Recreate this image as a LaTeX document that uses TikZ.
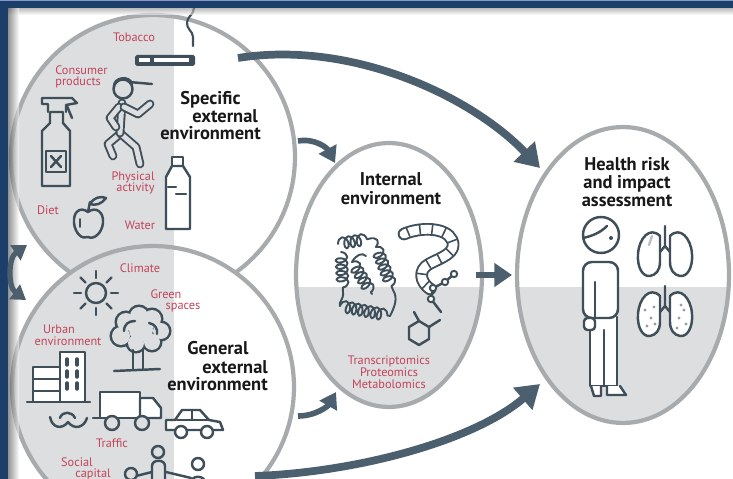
\documentclass[tikz,border=0pt]{standalone}
\usepackage{fontspec}
\setmainfont{PT Sans}
\usetikzlibrary{arrows.meta,shapes.geometric,decorations.pathmorphing,decorations.pathreplacing}

\definecolor{bandblue}{RGB}{28,63,106}
\definecolor{bandlight}{RGB}{140,150,205}
\definecolor{ringgray}{RGB}{168,171,174}
\definecolor{fillgray}{RGB}{220,222,224}
\definecolor{iconcol}{RGB}{63,79,90}
\definecolor{arrowcol}{RGB}{75,95,110}
\definecolor{labred}{RGB}{196,67,90}
\definecolor{ttlcol}{RGB}{24,24,24}

\tikzset{
  ring/.style={draw=ringgray, line width=2.4pt, fill=white, inner sep=0pt, outer sep=0pt},
  splitx/.style={path picture={\fill[fillgray]
      ([xshift=-3cm,yshift=-3cm]path picture bounding box.south west) rectangle
      ([xshift=#1,yshift=3cm]path picture bounding box.north);}},
  splity/.style={path picture={\fill[fillgray]
      ([xshift=-3cm,yshift=-3cm]path picture bounding box.south west) rectangle
      ([xshift=3cm,yshift=#1]path picture bounding box.east);}},
  flow/.style={draw=arrowcol, line width=4.4pt, -{Triangle[length=13pt,width=16pt]}},
  flowmid/.style={draw=arrowcol, line width=3.8pt, -{Triangle[length=10pt,width=13pt]}},
  flowsmall/.style={draw=arrowcol, line width=3.2pt, -{Triangle[length=9pt,width=11pt]}},
  icon/.style={draw=iconcol, line width=1.4pt, line cap=round, line join=round},
  limb/.style={draw=iconcol, line width=1.1pt, double=fillgray, double distance=2.8pt,
      line cap=round, line join=round},
  lab/.style={text=labred, font=\fontsize{7}{7}\selectfont, inner sep=0pt},
  ttl/.style={text=ttlcol, font=\bfseries\fontsize{10.5}{10}\selectfont, inner sep=0pt},
}

\begin{document}
\begin{tikzpicture}[x=0.02cm,y=-0.02cm]
\useasboundingbox (0,0) rectangle (733,479);
\clip (0,0) rectangle (733,479);
\fill[white] (0,0) rectangle (733,479);

% --- the four environments ---
\node[ring, circle, minimum size=5.68cm, splitx=0.42cm] (spec) at (153,157) {};
\node[ring, circle, minimum size=5.64cm, splitx=0.42cm] (gen) at (153,387) {};
\node[ring, ellipse, minimum width=3.72cm, minimum height=5.28cm, splity=-0.24cm] (intl) at (389,275) {};
\node[ring, ellipse, minimum width=4.24cm, minimum height=5.92cm, splity=-0.24cm] (hra) at (623,275) {};

% --- flows between them ---
\coordinate (a1s) at (238,58);  \coordinate (a1e) at (540,168);
\coordinate (a2s) at (298,141); \coordinate (a2e) at (335,163);
\coordinate (a4s) at (298,416); \coordinate (a4e) at (336,392);
\coordinate (a5s) at (255,476); \coordinate (a5e) at (540,384);
\draw[flow] (a1s) .. controls (350,40) and (470,95) .. (a1e);
\draw[flowsmall] (a2s) .. controls (315,138) and (327,148) .. (a2e);
\draw[flowmid] ([xshift=-0.12cm]intl.east) -- ([xshift=-0.1cm]hra.west);
\draw[flowsmall] (a4s) .. controls (316,416) and (328,406) .. (a4e);
\draw[flow] (a5s) .. controls (360,472) and (475,440) .. (a5e);

% ===== specific external environment: icons =====
% cigarette and smoke
\draw[icon, line width=1.2pt] (193,46) -- (193,37) .. controls (193,31) and (186,29) .. (187,22)
   .. controls (188,16) and (194,14) .. (194,8) -- (193,0);
\fill[iconcol, rounded corners=1pt] (135,55) rectangle (195,66);
\fill[white] (139,58.5) rectangle (150,62.5);
\fill[white] (154,58.5) rectangle (189,62.5);
% runner
\draw[limb] (120,134) -- (108,144) -- (113,156);
\draw[limb] (121,134) -- (136,147) -- (140,164);
\draw[limb] (122,103) -- (120,133);
\draw[limb] (119,107) -- (110,118) -- (116,127);
\draw[limb] (124,107) -- (138,114) -- (150,104);
\draw[icon, fill=fillgray] (123,89) circle (9.5);
\draw[icon] (114,87) .. controls (113,77) and (130,75) .. (132,84);
\draw[icon] (129,82) -- (152,84);
% spray bottle
\draw[icon] (42,186) -- (42,131) -- (50,123) -- (50,112) -- (63,112) -- (63,123) -- (70,131) -- (70,186) -- cycle;
\draw[icon] (48,112) -- (48,104) -- (42,104) -- (42,98) -- (72,98) -- (77,103) -- (66,105) -- (66,112);
\draw[icon] (67,106) -- (72,118);
\draw[icon] (46,151) rectangle (66,172);
\draw[icon] (51,156) -- (61,167) (61,156) -- (51,167);
% apple
\draw[icon] (88,212) .. controls (80,206) and (73,212) .. (74,223) .. controls (75,233) and (82,240) .. (88,237)
   .. controls (94,240) and (102,233) .. (103,223) .. controls (104,212) and (96,206) .. (88,212);
\draw[icon] (88,212) -- (90,202);
\draw[icon] (90,204) .. controls (94,197) and (101,196) .. (106,198) .. controls (102,204) and (95,206) .. (90,204);
\draw[icon, line width=1.1pt] (80,219) -- (80,227);
% water bottle
\draw[icon, fill=white] (172,157) rectangle (183,166);
\draw[icon, fill=white] (172,166) -- (166,177) -- (166,229) -- (190,229) -- (190,177) -- (183,166) -- cycle;
\draw[icon] (168,187) -- (176,187);
\draw[icon] (176,194) -- (186,194);

% ===== general external environment: icons =====
% sun
\draw[icon] (96,293) circle (10);
\foreach \a in {0,45,...,315}
  \draw[icon] ({96+15*cos(\a)},{293+15*sin(\a)}) -- ({96+22*cos(\a)},{293+22*sin(\a)});
% tree: canopy as a union of puffs
\foreach \c/\r in {{(121,336)}/9, {(126,322)}/9, {(139,316)}/9, {(152,319)}/9, {(161,331)}/8,
                   {(152,342)}/8, {(136,343)}/8}
  \draw[draw=iconcol, line width=2.8pt] \c circle (\r);
\foreach \c/\r in {{(121,336)}/9, {(126,322)}/9, {(139,316)}/9, {(152,319)}/9, {(161,331)}/8,
                   {(152,342)}/8, {(136,343)}/8, {(141,330)}/12}
  \fill[fillgray] \c circle (\r);
\draw[icon] (124,331) .. controls (124,324) and (129,321) .. (135,321);
\draw[icon] (149,323) .. controls (155,324) and (158,329) .. (157,334);
\draw[icon] (133,350) -- (133,369) (143,350) -- (143,369);
\draw[icon] (114,371) -- (160,369);
% buildings
\draw[icon, fill=white] (33,367) rectangle (60,402);
\draw[icon] (33,379) -- (60,379) (33,391) -- (60,391);
\draw[icon, fill=white] (60,352) rectangle (85,402);
\foreach \yy in {362,374,386}
  \draw[icon, line width=2pt] (67,\yy-3) -- (67,\yy+3) (77,\yy-3) -- (77,\yy+3);
\draw[icon] (27,402) -- (90,402);
% water waves
\draw[icon] (50,417) .. controls (52,428) and (62,430) .. (68,422) .. controls (74,430) and (84,428) .. (87,418);
\draw[icon] (60,418) .. controls (62,411) and (72,411) .. (75,418);
% truck
\draw[icon] (93,418) -- (100,418);
\draw[icon, fill=white] (100,392) rectangle (140,418);
\draw[icon, fill=white] (140,398) -- (153,398) -- (161,408) -- (161,418) -- (140,418) -- cycle;
\draw[icon, fill=fillgray] (112,423) circle (7);
\draw[icon, fill=fillgray] (142,423) circle (7);
% car
\draw[icon, fill=white] (166,430) -- (166,420) -- (175,420) -- (182,410) -- (200,410) -- (209,420)
   -- (220,422) -- (223,430) -- cycle;
\draw[icon] (192,410) -- (192,420) (177,420) -- (209,420);
\draw[icon, fill=white] (181,432) circle (6);
\draw[icon, fill=white] (207,432) circle (6);
% people
\draw[icon] (136,476) -- (152,472) (166,472) -- (191,478);
\draw[icon, fill=fillgray] (158,452) circle (6);
\draw[icon, fill=fillgray] (152,480) -- (152,466) .. controls (152,459) and (165,459) .. (165,466) -- (165,480);
\draw[icon, fill=white] (198,464) circle (6);
\draw[icon, fill=white] (190,485) .. controls (190,474) and (206,474) .. (206,485);
\draw[icon, fill=fillgray] (131,474) circle (6);

% ===== internal environment: molecules =====
\tikzset{helix/.style={icon, line width=1.1pt, decorate,
    decoration={coil, aspect=0.6, segment length=3.6pt, amplitude=3.4pt}}}
\draw[helix] (338,244) -- (368,239);
\draw[helix] (341,252) -- (343,292);
\draw[helix] (352,262) -- (372,294);
\draw[helix] (376,247) -- (393,290);
\draw[helix] (340,306) -- (390,316);
\draw[icon, line width=1.1pt] (368,239) .. controls (378,236) and (380,242) .. (376,247);
\draw[icon, line width=1.1pt] (343,292) .. controls (344,300) and (338,302) .. (340,306);
\draw[icon, line width=1.1pt] (393,290) .. controls (398,298) and (395,306) .. (390,316);
\draw[icon, line width=1.1pt] (352,262) .. controls (356,255) and (362,252) .. (366,256);
% ribbon
\draw[icon, line width=1.1pt, double=white, double distance=5pt]
   (404,234) .. controls (420,227) and (446,227) .. (452,240) .. controls (458,253) and (440,258) .. (429,264)
   .. controls (418,270) and (420,282) .. (430,289);
\draw[icon, line width=0.9pt, decorate, decoration={ticks, segment length=7pt, amplitude=2.6pt}]
   (408,232) .. controls (420,227) and (446,227) .. (452,240) .. controls (458,253) and (440,258) .. (429,264)
   .. controls (418,270) and (420,282) .. (428,287);
% small molecule network
\draw[icon] (433,288) -- (445,282) -- (454,274) (433,288) -- (431,299) -- (441,312);
\foreach \p in {(433,288),(445,282),(454,274),(431,299)}
  \draw[icon, line width=1.1pt, fill=white] \p circle (3.2);
% ring with side chain
\draw[icon] (419,321) -- (429,327) -- (429,339) -- (419,345) -- (409,339) -- (409,327) -- cycle;
\draw[icon] (429,327) -- (440,320) (419,321) -- (414,312);

% ===== health risk: person and lungs =====
\draw[icon, fill=white] (590,317) -- (590,386) -- (617,386) -- (617,317);
\draw[icon] (604,330) -- (604,386);
\draw[icon, fill=white] (591,386) -- (594,396) -- (601,396) -- (601,386);
\draw[icon, fill=white] (607,386) -- (607,395) -- (626,395) -- (620,386);
\draw[icon, fill=white, rounded corners=5pt] (583,318) -- (583,262) -- (618,262) -- (618,318) -- cycle;
\draw[icon] (595,282) -- (595,318);
\draw[icon, fill=white, rounded corners=2pt] (584,318) rectangle (595,330);
\draw[icon, fill=white] (601,235) circle (18);
\draw[icon] (583,238) .. controls (592,236) and (600,233) .. (607,226);
\fill[iconcol] (611,238) circle (2);
\newcommand\lungpair{%
  \draw[icon, fill=white] (660,236) .. controls (650,226) and (639,238) .. (638,254) .. controls (637,268) and (643,277) .. (650,276)
     .. controls (656,275) and (660,270) .. (660,262) -- cycle;
  \draw[icon, fill=white] (670,236) .. controls (680,226) and (691,238) .. (692,254) .. controls (693,268) and (687,277) .. (680,276)
     .. controls (674,275) and (670,270) .. (670,262) -- cycle;
  \draw[icon] (665,226) -- (665,246) (665,246) -- (660,252) (665,246) -- (670,252);}
\lungpair
\draw[draw=iconcol!35, line width=1.4pt, line cap=round] (652,236) -- (649,245);
\begin{scope}[shift={(0,60)}]
  \lungpair
  \foreach \p in {(645,250),(651,258),(647,266),(654,247),(655,264),(684,250),(679,258),(686,264),(681,245),(677,268)}
    \fill[iconcol!55] \p circle (1.6);
\end{scope}

% ===== texts =====
\node[lab, anchor=base] (tTob) at (134,42) {Tobacco};
\node[lab, anchor=base west] (tCon1) at (55,75) {Consumer};
\node[lab, anchor=base west] (tCon2) at (55,86) {products};
\node[lab, anchor=base east] (tPhy1) at (155,181) {Physical};
\node[lab, anchor=base east] (tPhy2) at (155,192) {activity};
\node[lab, anchor=base] (tDiet) at (48,215) {Diet};
\node[lab, anchor=base] (tWat) at (140,230) {Water};
\node[ttl, anchor=base west] (tSp1) at (180,105) {Specific};
\node[ttl, anchor=base west] (tSp2) at (192,123) {external};
\node[ttl, anchor=base west] (tSp3) at (160,140) {environment};

\node[lab, anchor=base] (tCli) at (140,273) {Climate};
\node[lab, anchor=base] (tGr1) at (166,298) {Green};
\node[lab, anchor=base] (tGr2) at (183,310) {spaces};
\node[lab, anchor=base] (tUr1) at (59,334) {Urban};
\node[lab, anchor=base] (tUr2) at (68,345) {environment};
\node[lab, anchor=base] (tTra) at (112,447) {Traffic};
\node[lab, anchor=base] (tSoc1) at (77,466) {Social};
\node[lab, anchor=base] (tSoc2) at (93,477) {capital};
\node[ttl, anchor=base west] (tGe1) at (187,355) {General};
\node[ttl, anchor=base west] (tGe2) at (202,373) {external};
\node[ttl, anchor=base west] (tGe3) at (167,390) {environment};

\node[ttl, anchor=base] (tIn1) at (391,186) {Internal};
\node[ttl, anchor=base] (tIn2) at (391,205) {environment};
\node[lab, anchor=base] (tOm1) at (389,364) {Transcriptomics};
\node[lab, anchor=base] (tOm2) at (389,376) {Proteomics};
\node[lab, anchor=base] (tOm3) at (389,388) {Metabolomics};

\node[ttl, anchor=base] (tHe1) at (627,171) {Health risk};
\node[ttl, anchor=base] (tHe2) at (627,189) {and impact};
\node[ttl, anchor=base] (tHe3) at (627,207) {assessment};

% ===== frame =====
\shade[top color=black!45, bottom color=white, opacity=0.6] (0,8) rectangle (733,15);
\shade[left color=black!70, right color=white, opacity=0.6] (8,8) rectangle (19,479);
\fill[bandblue] (0,0) rectangle (733,8);
\fill[bandblue] (0,0) rectangle (8,479);
\fill[bandlight] (0,0) rectangle (733,1);

% exchange between the two external environments
\coordinate (lc1) at (27,245);
\coordinate (lc2) at (26,300);
\draw[draw=arrowcol, line width=3pt, {Triangle[length=8pt,width=10pt]}-{Triangle[length=8pt,width=10pt]}]
   (lc1) .. controls (8,258) and (8,287) .. (lc2);
\end{tikzpicture}
\end{document}
